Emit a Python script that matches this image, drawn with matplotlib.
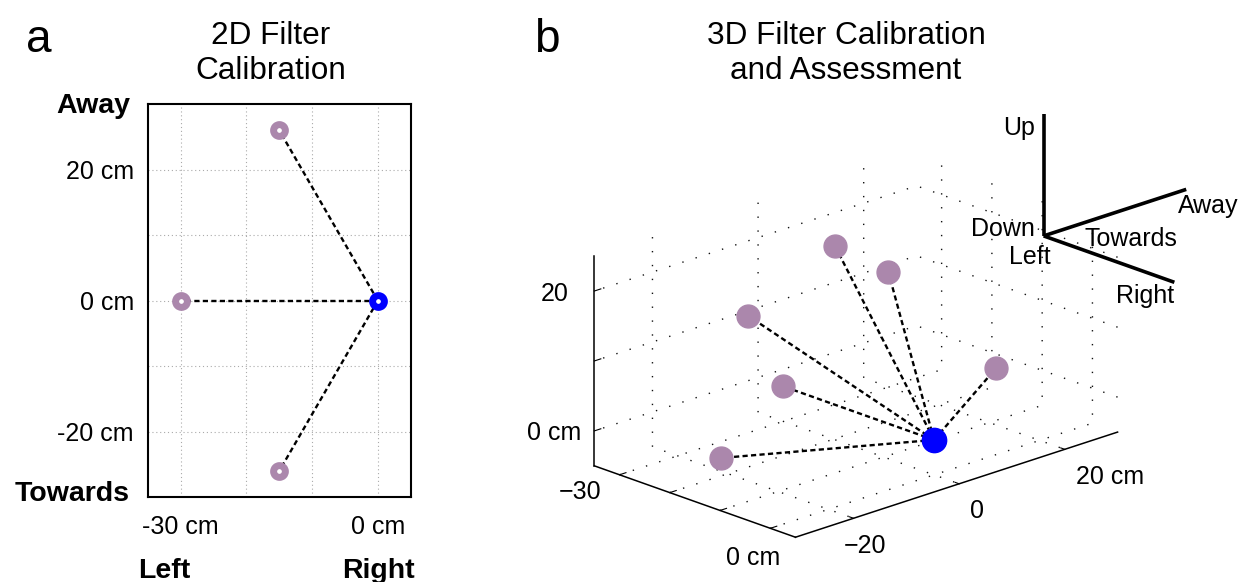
import matplotlib
matplotlib.use("Agg")
import matplotlib.pyplot as plt
import numpy as np
from mpl_toolkits.mplot3d import proj3d

plt.rcParams['font.family'] = ['Liberation Sans', 'DejaVu Sans']

# ---------------- data ----------------
# panel a (2D calibration): Left/Right (x) and Towards/Away (y), cm
a_target_x = [-15, -30, -15]
a_target_y = [26, 0, -26]
a_center_x = [0]
a_center_y = [0]
a_xticks = [-30, -20, -10, 0]
a_xticklabels = ['-30 cm', '', '', '0 cm']
a_yticks = [-20, -10, 0, 10, 20]
a_yticklabels = ['-20 cm', '', '0 cm', '', '20 cm']

# panel b (3D calibration and assessment): x Left/Right, y Towards/Away, z Down/Up
b_target_x = [-30, -15, -15, -19.7, -22.2, -23.8]
b_target_y = [0, -26, 26, 0, -14, 14]
b_target_z = [0, 0, 0, 22.7, 15.5, 14.5]
b_center = [0, 0, 0]
b_xticks = [-30, -20, -10, 0]
b_xticklabels = ['\u221230', '', '', '0 cm']
b_yticks = [-20, 0, 20]
b_yticklabels = ['\u221220', '0', '20 cm']
b_zticks = [0, 10, 20]
b_zticklabels = ['0 cm', '', '20']

# orientation glyph: origin and arm lengths (Right, Away, Up)
glyph_origin = [5, 16, 26.5]
glyph_lengths = [26, 27, 17.4]

PURPLE = '#AB87AC'
BLUE = '#0000FF'
W, H = 1244, 582

fig = plt.figure(figsize=(W / 100, H / 100), dpi=100)
fig.patch.set_facecolor('white')

# ---------------- panel a ----------------
ax = fig.add_axes([147.7 / W, (H - 497.3) / H, 263 / W, 393.3 / H])
ax.set_xlim(-35, 5)
ax.set_ylim(-30, 30)
for tx, ty in zip(a_target_x, a_target_y):
    ax.plot([a_center_x[0], tx], [a_center_y[0], ty], color='k', lw=1.7,
            ls=(0, (2.2, 1.4)), zorder=2)
ax.plot(a_target_x, a_target_y, 'o', ms=8.5, mew=5, mfc='white', mec=PURPLE,
        ls='none', zorder=3)
ax.plot(a_center_x, a_center_y, 'o', ms=8.5, mew=5, mfc='white', mec=BLUE,
        ls='none', zorder=3)
ax.set_xticks(a_xticks)
ax.set_xticklabels(a_xticklabels)
ax.set_yticks(a_yticks)
ax.set_yticklabels(a_yticklabels)
ax.grid(True, color='#aaaaaa', lw=0.8, ls=(0, (1, 2.5)))
ax.tick_params(length=0, labelsize=18)
ax.tick_params(axis='y', pad=10)
ax.tick_params(axis='x', pad=13)
for sp in ax.spines.values():
    sp.set_linewidth(1.5)
ax.text(-0.065, 0.976, 'Away', transform=ax.transAxes, ha='right',
        va='baseline', fontsize=20.5, fontweight='bold')
ax.text(-0.07, -0.0094, 'Towards', transform=ax.transAxes, ha='right',
        va='baseline', fontsize=20.5, fontweight='bold')
ax.text(-0.036, -0.205, 'Left', transform=ax.transAxes, ha='left',
        va='baseline', fontsize=20.5, fontweight='bold')
ax.text(1.016, -0.205, 'Right', transform=ax.transAxes, ha='right',
        va='baseline', fontsize=20.5, fontweight='bold')

fig.text(271 / W, (H - 79) / H, '2D Filter\nCalibration', ha='center',
         va='baseline', fontsize=22.7, linespacing=1.2)
fig.text(846 / W, (H - 79) / H, '3D Filter Calibration\nand Assessment',
         ha='center', va='baseline', fontsize=22.7, linespacing=1.2)
fig.text(26 / W, (H - 52) / H, 'a', ha='left', va='baseline', fontsize=33)
fig.text(534 / W, (H - 52) / H, 'b', ha='left', va='baseline', fontsize=33)

# ---------------- panel b ----------------
XL, YL, ZL = (-35, 5), (-31, 30), (-5, 25)
ax3 = fig.add_axes([0.45, 0.0, 0.5, 1.0], projection='3d')
ax3.set_facecolor((1, 1, 1, 0))
ax3.set_proj_type('ortho')
ax3.view_init(elev=19.9, azim=-43.8)
ax3.set_box_aspect((0.651, 1, 0.5))
ax3.set_xlim(*XL)
ax3.set_ylim(*YL)
ax3.set_zlim(*ZL)
ax3.set_xticks(b_xticks)
ax3.set_xticklabels(b_xticklabels)
ax3.set_yticks(b_yticks)
ax3.set_yticklabels(b_yticklabels)
ax3.set_zticks(b_zticks)
ax3.set_zticklabels(b_zticklabels)
ax3.tick_params(labelsize=18)
ax3.zaxis.set_ticks_position('lower')
ax3.zaxis.set_tick_params(pad=8)
for axis in (ax3.xaxis, ax3.yaxis, ax3.zaxis):
    axis.pane.fill = False
    axis.pane.set_edgecolor((1, 1, 1, 0))
    axis._axinfo['grid'].update(color='#111111', linewidth=1.0,
                                linestyle=(0, (1, 9)))
    axis._axinfo['tick']['inward_factor'] = 0.0
    axis._axinfo['tick']['outward_factor'] = 0.25
    axis.line.set_linewidth(1.1)
    axis.line.set_color('k')

xl = ax3.get_xticklabels()
xl[0].set_ha('right')
xl[0].set_va('center')
yl = ax3.get_yticklabels()
yl[1].set_ha('left')
yl[2].set_ha('left')
for lab in ax3.get_zticklabels():
    lab.set_va('center')

for tx, ty, tz in zip(b_target_x, b_target_y, b_target_z):
    ax3.plot([b_center[0], tx], [b_center[1], ty], [b_center[2], tz],
             color='k', lw=1.7, ls=(0, (2.2, 1.4)), zorder=2)
ax3.plot(b_target_x, b_target_y, b_target_z, 'o', ms=16.5, color=PURPLE,
         ls='none', zorder=4)
ax3.plot([b_center[0]], [b_center[1]], [b_center[2]], 'o', ms=17.5,
         color=BLUE, ls='none', zorder=5)


def to_px(axx, xs, ys, zs):
    px, py, _ = proj3d.proj_transform(np.asarray(xs, float), np.asarray(ys, float),
                                      np.asarray(zs, float), axx.get_proj())
    return axx.transData.transform(np.column_stack([px, py]))


# fit axes placement so the box corners land where the reference has them
fig.canvas.draw()
corners = ([XL[0], XL[1], XL[1], XL[0]], [YL[0], YL[0], YL[1], YL[0]],
           [ZL[0], ZL[0], ZL[0], ZL[1]])
target = np.array([[594.3, H - 463.3], [795.5, H - 538.5],
                   [1117.7, H - 432.7], [594.3, H - 256.7]])
cur = to_px(ax3, *corners)
cm, tm = cur.mean(0), target.mean(0)
s = np.sum((cur - cm) * (target - tm)) / np.sum((cur - cm) ** 2)
t = tm - s * cm
bb = ax3.get_position()
x0, y0 = bb.x0 * W, bb.y0 * H
w, h = bb.width * W, bb.height * H
c = np.array([x0 + w / 2, y0 + h / 2])
nc = s * c + t
nw, nh = s * w, s * h
ax3.set_position([(nc[0] - nw / 2) / W, (nc[1] - nh / 2) / H, nw / W, nh / H])
fig.canvas.draw()

# orientation glyph (Right = +x, Away = +y, Up = +z)
ox, oy, oz = glyph_origin
lr, la, lu = glyph_lengths
arms = [([ox, ox + lr], [oy, oy], [oz, oz]),
        ([ox, ox], [oy, oy + la], [oz, oz]),
        ([ox, ox], [oy, oy], [oz, oz + lu])]
for xs, ys, zs in arms:
    ax3.plot(xs, ys, zs, color='k', lw=2.6, solid_capstyle='butt',
             clip_on=False, zorder=6)

pts = {'O': (ox, oy, oz), 'R': (ox + lr, oy, oz), 'A': (ox, oy + la, oz),
       'U': (ox, oy, oz + lu)}
labels = [('Up', 'U', (-25, 14)), ('Down', 'O', (-40.6, -6.7)),
          ('Left', 'O', (-14.3, 20.8)), ('Towards', 'O', (87.7, 3.3)),
          ('Away', 'A', (22, 16.7)), ('Right', 'R', (-29.7, 14))]
for txt, key, (dx, dy) in labels:
    p = pts[key]
    px, py, _ = proj3d.proj_transform(np.array([p[0]]), np.array([p[1]]),
                                      np.array([p[2]]), ax3.get_proj())
    ax3.annotate(txt, (px[0], py[0]), xytext=(dx, -dy),
                 textcoords='offset pixels', ha='center', va='center',
                 fontsize=18, annotation_clip=False, zorder=7)

fig.savefig('out.png', dpi=100)
